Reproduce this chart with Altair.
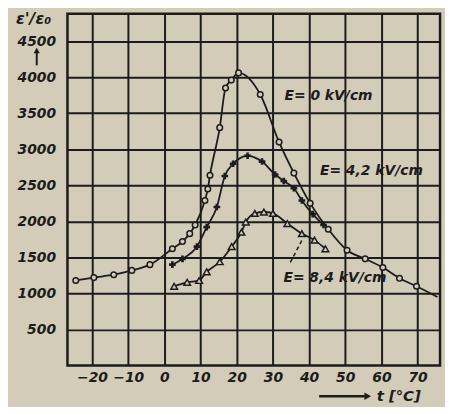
import altair as alt
import pandas as pd

# E = 0 kV/cm (circles)
t0 = [-24.5, -19.5, -14, -9, -4, 2.2, 5, 7, 8.5, 11.2, 12, 12.6, 15.3, 16.9, 18.5, 20.5,
      26.5, 31.7, 35.8, 40.3, 45.3, 50.5, 55.5, 60.4, 65, 69.7]
e0 = [1180, 1220, 1260, 1320, 1400, 1620, 1720, 1830, 1950, 2290, 2450, 2640, 3300, 3850,
      3960, 4060, 3760, 3100, 2670, 2250, 1890, 1600, 1480, 1360, 1210, 1100]
t0_tail = [75.5]
e0_tail = [950]

# E = 4,2 kV/cm (crosses)
t42 = [2.2, 5, 9, 11.7, 14.5, 16.7, 19, 23, 27, 30.6, 33, 35.8, 38, 41, 44]
e42 = [1400, 1480, 1650, 1920, 2200, 2630, 2800, 2910, 2830, 2650, 2560, 2460, 2290, 2100, 1950]

# E = 8,4 kV/cm (triangles)
t84 = [2.7, 6.3, 9.6, 11.7, 15.3, 18.6, 21.3, 22.5, 25, 27.5, 30, 34, 38, 41.5, 44.5]
e84 = [1100, 1155, 1180, 1300, 1440, 1650, 1850, 1990, 2110, 2130, 2110, 1970, 1830, 1740, 1620]

x_ticks = [-20, -10, 0, 10, 20, 30, 40, 50, 60, 70]
y_ticks = [500, 1000, 1500, 2000, 2500, 3000, 3500, 4000, 4500]

labels = ["E= 0 kV/cm", "E= 4,2 kV/cm", "E= 8,4 kV/cm"]
label_t = [33.2, 43, 32.9]
label_e = [3740, 2695, 1210]

# leader line from the 8,4 label to its curve
lead_t = [34.8, 38.1]
lead_e = [1430, 1746]

INK = "#1c1c1c"
BG = "#d3ccb8"
FONT = "DejaVu Sans"

xs = alt.Scale(domain=[-26.8, 76.2], nice=False, zero=False)
ys = alt.Scale(domain=[0, 4880], nice=False, zero=False)

xax = alt.Axis(values=x_ticks, title=None, labelPadding=5, format="d")
yax = alt.Axis(values=y_ticks, title=None, labelPadding=12, format="d")

d0 = pd.DataFrame({"t": t0, "e": e0})
d0line = pd.DataFrame({"t": t0 + t0_tail, "e": e0 + e0_tail})
d42 = pd.DataFrame({"t": t42, "e": e42})
d84 = pd.DataFrame({"t": t84, "e": e84})
dlab = pd.DataFrame({"t": label_t, "e": label_e, "txt": labels})
dlead = pd.DataFrame({"t": lead_t, "e": lead_e})

def enc(ch, **kw):
    return ch.encode(
        x=alt.X("t:Q", scale=xs, axis=xax),
        y=alt.Y("e:Q", scale=ys, axis=yax),
        **kw,
    )

line0 = enc(alt.Chart(d0line).mark_line(color=INK, strokeWidth=1.8, interpolate="monotone"))
pts0 = enc(alt.Chart(d0).mark_point(shape="circle", size=32, filled=True, fill=BG,
                                     stroke=INK, strokeWidth=1.5, opacity=1))
line42 = enc(alt.Chart(d42).mark_line(color=INK, strokeWidth=1.8, interpolate="monotone"))
pts42 = enc(alt.Chart(d42).mark_point(shape="cross", size=45, filled=True, color=INK, opacity=1))
line84 = enc(alt.Chart(d84).mark_line(color=INK, strokeWidth=1.8, interpolate="monotone"))
pts84 = enc(alt.Chart(d84).mark_point(shape="triangle-up", size=45, filled=True, fill=BG,
                                       stroke=INK, strokeWidth=1.5, opacity=1))
lead = enc(alt.Chart(dlead).mark_line(color=INK, strokeWidth=1.5, strokeDash=[4, 3]))

lab = enc(alt.Chart(dlab).mark_text(align="left", baseline="middle", font=FONT, fontSize=14,
                                    fontWeight="bold", fontStyle="italic", color=INK),
          text="txt:N")

ann = pd.DataFrame({"a": [0]})
ytitle = alt.Chart(ann).mark_text(align="left", baseline="middle", font=FONT, fontSize=16,
                                  fontWeight="bold", fontStyle="italic", color=INK).encode(
    x=alt.value(-52), y=alt.value(5), text=alt.value("ε'/ε₀"))
yarrow = alt.Chart(ann).mark_rule(color=INK, strokeWidth=2).encode(
    x=alt.value(-31), y=alt.value(52), y2=alt.value(38))
yhead = alt.Chart(ann).mark_point(shape="triangle-up", size=40, filled=True, color=INK, opacity=1).encode(
    x=alt.value(-31), y=alt.value(37))
xarrow = alt.Chart(ann).mark_rule(color=INK, strokeWidth=2.5).encode(
    x=alt.value(254), x2=alt.value(300), y=alt.value(386))
xhead = alt.Chart(ann).mark_point(shape="triangle-right", size=60, filled=True, color=INK, opacity=1).encode(
    x=alt.value(303), y=alt.value(386))
xtitle = alt.Chart(ann).mark_text(align="left", baseline="middle", font=FONT, fontSize=15,
                                  fontWeight="bold", fontStyle="italic", color=INK).encode(
    x=alt.value(312), y=alt.value(386), text=alt.value("t [°C]"))

chart = alt.layer(
    line0, line42, line84, lead, pts0, pts42, pts84, lab,
    ytitle, yarrow, yhead, xarrow, xhead, xtitle,
).properties(
    width=376, height=355,
    background=BG,
    autosize=alt.AutoSizeParams(type="none"),
    padding={"left": 60, "top": 4, "right": 5, "bottom": 40},
).configure_view(
    stroke=INK, strokeWidth=2.5,
).configure_axis(
    grid=True, gridColor=INK, gridWidth=2, gridOpacity=1,
    ticks=False, domain=False,
    labelFont=FONT, labelFontSize=14, labelFontWeight="bold", labelFontStyle="italic",
    labelColor=INK,
)

chart.save("out.html", embed_options={"renderer": "svg", "actions": False})
